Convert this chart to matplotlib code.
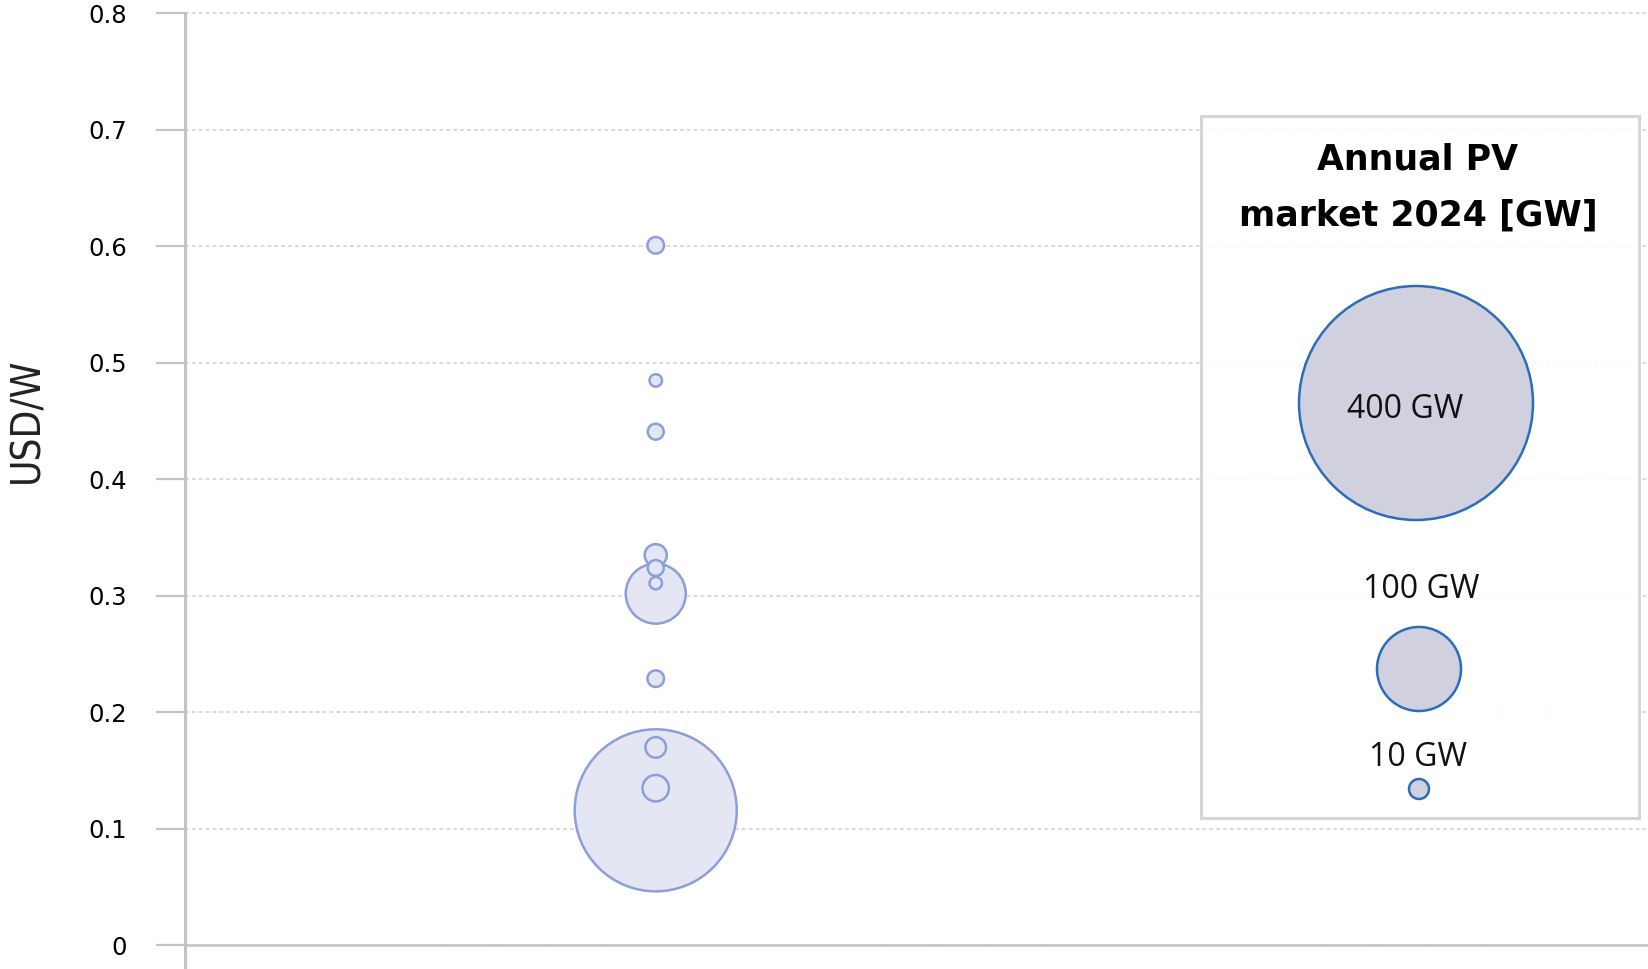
import numpy as np
import matplotlib
matplotlib.use("Agg")
import matplotlib.pyplot as plt
from matplotlib.patches import Circle

# module price (USD/W) and annual PV market 2024 (GW), one bubble per country
price = [0.601, 0.485, 0.441, 0.335, 0.324, 0.311, 0.302, 0.229, 0.170, 0.135, 0.116]
market_gw = [3.9, 2.2, 3.6, 6.9, 3.6, 2.2, 51.0, 3.9, 6.0, 9.9, 372.0]
yticks = [0, 0.1, 0.2, 0.3, 0.4, 0.5, 0.6, 0.7, 0.8]
ytick_labels = ["0", "0.1", "0.2", "0.3", "0.4", "0.5", "0.6", "0.7", "0.8"]
legend_gw = [400, 100, 10]
legend_labels = ["400 GW", "100 GW", "10 GW"]

W, H = 1649, 969
fig = plt.figure(figsize=(W / 100, H / 100), dpi=100)
ax = fig.add_axes([185 / W, 0, 1 - 185 / W, 958 / H])

grey = "#c3c3c3"
ax.set_ylim(-0.0202, 0.8021)
ax.set_xlim(0, 3.11)
ax.set_yticks(yticks)
ax.set_yticklabels(ytick_labels, fontsize=17.5, family="DejaVu Sans", color="black")
ax.tick_params(axis="y", length=21, width=1.6, color=grey, pad=21)
ax.set_xticks([])
for s in ["top", "right", "bottom"]:
    ax.spines[s].set_visible(False)
ax.spines["left"].set_color(grey)
ax.spines["left"].set_linewidth(2.2)
ax.spines["left"].set_bounds(-0.0202, 0.8)
ax.yaxis.grid(True, color="#cfcfcf", linestyle=(0, (2.5, 2)), linewidth=1.1)
ax.set_axisbelow(True)
ax.axhline(0, color=grey, lw=1.8, zorder=1)

# bubbles, largest first so the small ones stay visible
order = np.argsort(market_gw)[::-1]
x = np.ones(len(price))
sizes = np.array(market_gw) * 36.6
ax.scatter(x[order], np.array(price)[order], s=sizes[order],
           facecolor="#e5e6f3", edgecolor="#8a9fdc", linewidth=1.8, zorder=3)

fig.text(27 / W, 1 - 420 / H, "USD/W", rotation=90, ha="center", va="center",
         fontsize=29, family="DejaVu Sans", fontstretch="condensed", color="#222222")

# legend box drawn in pixel units
lx0, ly0, lw_, lh_ = 1201, 116, 438, 702
lax = fig.add_axes([lx0 / W, 1 - (ly0 + lh_) / H, lw_ / W, lh_ / H])
lax.set_xlim(0, lw_)
lax.set_ylim(lh_, 0)
lax.set_xticks([])
lax.set_yticks([])
lax.set_facecolor((1, 1, 1, 0.88))
for s in lax.spines.values():
    s.set_color("#d6d6d6")
    s.set_linewidth(2.2)

lax.text(217, 54, "Annual PV", ha="center", va="baseline",
         fontsize=25, fontweight="bold", family="DejaVu Sans")
lax.text(217, 110, "market 2024 [GW]", ha="center", va="baseline",
         fontsize=25, fontweight="bold", family="DejaVu Sans")

leg_circ = [(215, 287, 117), (218, 553, 42), (218, 673, 10)]
leg_text = [(204, 294), (220, 474), (217, 641)]
for (cx, cy, r), (tx, ty), lab in zip(leg_circ, leg_text, legend_labels):
    lax.add_patch(Circle((cx, cy), r, facecolor="#d0d0de", edgecolor="#2a6ebb", lw=1.8))
    lax.text(tx, ty, lab, ha="center", va="center", fontsize=23, family="Open Sans",
             color="#111111")

fig.savefig("out.png", dpi=100, facecolor="white")
